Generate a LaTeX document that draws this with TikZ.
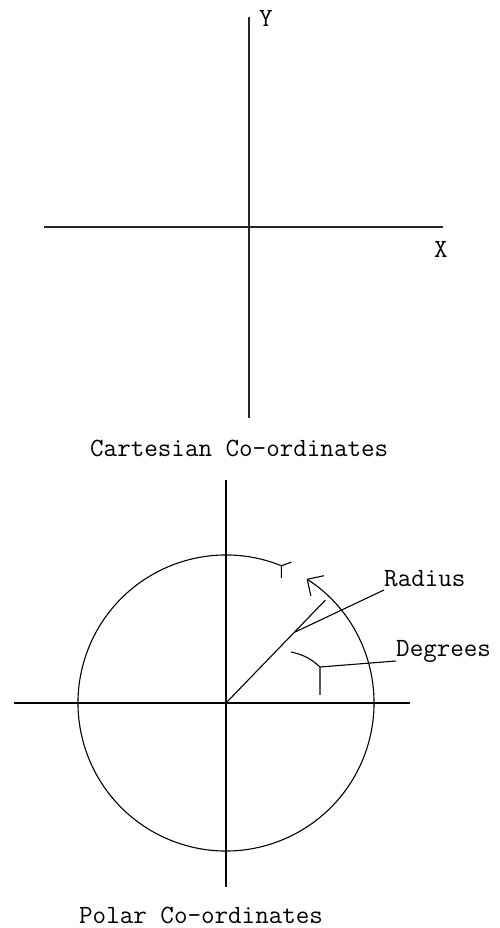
\documentclass[tikz,border=0pt]{standalone}
\usepackage{fontspec}
\usetikzlibrary{calc,arrows.meta}

\begin{document}
\begin{tikzpicture}[x=1pt, y=1pt,
    every node/.style={font=\ttfamily\fontsize{26.3}{26.3}\selectfont, inner sep=0pt, anchor=base west},
    cartaxis/.style={line width=2pt, black!85},
    polline/.style={line width=1.1pt, black}
  ]
  \useasboundingbox (0,0) rectangle (500,928);

  % cartesian axes
  \coordinate (c-top) at (249,911);
  \coordinate (c-bot) at (249,510);
  \coordinate (c-left) at (44,701);
  \coordinate (c-right) at (443,701);
  \draw[cartaxis] (c-top) -- (c-bot);
  \draw[cartaxis] (c-left) -- (c-right);
  \node (ylab) at (259,901) {Y};
  \node (xlab) at (434,670) {X};
  \node (cartcap) at (90,471) {Cartesian Co-ordinates};

  % polar axes and circle
  \coordinate (o) at (226,225);
  \coordinate (p-top) at (226,448);
  \coordinate (p-bot) at (226,41);
  \coordinate (p-left) at (14,225);
  \coordinate (p-right) at (410,225);
  \draw[polline] (p-top) -- (p-bot);
  \draw[polline] (p-left) -- (p-right);
  \coordinate (tail) at ($(o)+(68:148)$);
  \draw[polline, -{Straight Barb[length=12pt,width=24pt]}]
    (tail) arc[start angle=68, end angle=417, radius=148];
  \draw[polline] (tail) -- ++(10,3.7) (tail) -- ++(0,-12.3);

  % radius
  \coordinate (rad-end) at ($(o)+(46:143)$);
  \coordinate (rad-mid) at ($(o)+(46:98)$);
  \draw[polline] (o) -- (rad-end);
  \node (radlab) at (384,341) {Radius};
  \draw[polline] (rad-mid) -- ([yshift=-3pt]radlab.base west);

  % degrees
  \coordinate (deg-a) at (291,276);
  \coordinate (deg-j) at (320,261);
  \coordinate (deg-b) at (320,233);
  \draw[polline] (deg-a) to[bend left=15] (deg-j) -- (deg-b);
  \node (deglab) at (396,271) {Degrees};
  \draw[polline] (deg-j) -- ([yshift=-4pt]deglab.base west);

  \node (polcap) at (79,5) {Polar Co-ordinates};
\end{tikzpicture}
\end{document}
